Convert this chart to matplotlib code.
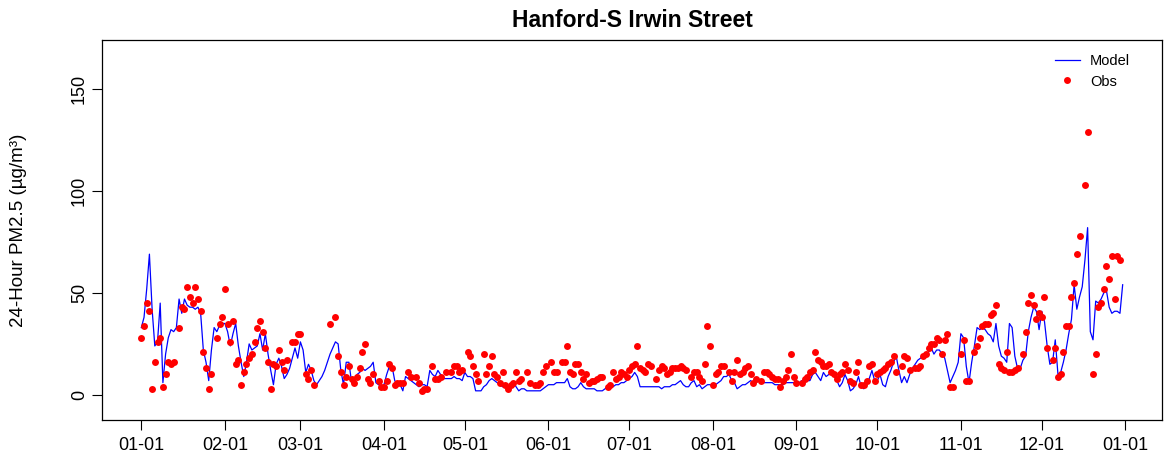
import numpy as np
import matplotlib
matplotlib.use('Agg')
import matplotlib.pyplot as plt

plt.rcParams['font.family'] = ['Liberation Sans', 'DejaVu Sans']

site_name = "Hanford-S Irwin Street"

# daily model PM2.5 (ug/m3), one row per month
model_jan = [33, 38, 52, 69, 42, 24, 26, 45, 6, 20, 28, 32, 31, 33, 47, 40, 47, 44, 43, 43, 42, 43, 40, 22, 16, 7, 22, 33, 31, 34, 35]
model_feb = [35, 31, 24, 30, 35, 24, 16, 9, 16, 25, 22, 23, 24, 30, 22, 30, 20, 12, 5, 15, 18, 14, 8, 10, 13, 18, 23, 18]
model_mar = [26, 22, 11, 15, 12, 7, 5, 7, 9, 12, 16, 20, 23, 26, 25, 12, 5, 16, 16, 6, 6, 10, 11, 13, 12, 13, 14, 16, 6, 5, 4]
model_apr = [5, 10, 14, 14, 7, 5, 5, 2, 9, 8, 7, 6, 5, 4, 5, 5, 4, 12, 10, 9, 12, 10, 8, 8, 8, 8, 9, 8, 8, 7]
model_may = [11, 9, 9, 8, 2, 2, 2, 4, 5, 7, 8, 7, 6, 5, 4, 4, 4, 5, 6, 4, 2, 3, 3, 2, 2, 2, 2, 2, 2, 3, 4]
model_jun = [5, 5, 5, 6, 6, 6, 6, 8, 4, 3, 3, 4, 6, 4, 3, 3, 3, 3, 2, 2, 2, 3, 4, 4, 4, 5, 5, 6, 6, 7]
model_jul = [8, 9, 11, 9, 4, 4, 4, 4, 4, 4, 4, 4, 3, 4, 4, 4, 5, 5, 6, 7, 5, 4, 4, 6, 7, 4, 5, 3, 4, 5, 5]
model_aug = [4, 5, 6, 7, 9, 9, 10, 7, 6, 3, 4, 5, 5, 6, 7, 6, 6, 7, 7, 6, 6, 6, 6, 5, 5, 5, 5, 6, 6, 6, 6]
model_sep = [6, 6, 7, 7, 7, 7, 10, 11, 9, 7, 11, 9, 10, 11, 9, 7, 4, 6, 10, 7, 2, 3, 5, 9, 4, 3, 6, 8, 12, 7]
model_oct = [7, 10, 5, 4, 9, 12, 16, 19, 12, 6, 9, 6, 10, 13, 15, 17, 18, 19, 20, 21, 23, 20, 22, 22, 20, 18, 12, 6, 9, 12, 16]
model_nov = [30, 28, 14, 6, 16, 24, 33, 32, 33, 32, 30, 29, 26, 35, 24, 19, 18, 16, 35, 33, 19, 13, 13, 17, 19, 31, 38, 43, 41, 32]
model_dec = [41, 36, 24, 15, 16, 27, 10, 11, 16, 22, 30, 37, 54, 42, 48, 53, 66, 82, 31, 27, 46, 45, 47, 50, 51, 43, 40, 41, 41, 40, 54]

# daily observed PM2.5, None where no sample
N = None
obs_jan = [28, 34, 45, 41, 3, 16, 26, 28, 4, 10, 16, 15, 16, N, 33, 43, 42, 53, 48, 45, 53, 47, 41, 21, 13, 3, 10, N, 28, 35, 38]
obs_feb = [52, 35, 26, 36, 15, 17, 5, 11, 15, 18, 20, 26, 33, 36, 31, 23, 16, 3, 15, 14, 22, 16, 12, 17, N, 26, 26, 30]
obs_mar = [30, N, 10, 8, 12, 5, N, N, N, N, N, 35, N, 38, 19, 11, 5, 9, 14, 8, 6, 9, 13, 21, 25, 8, 6, 10, N, 7, 4]
obs_apr = [4, 7, 15, 13, 5, 6, 6, 6, N, 11, 9, N, 9, 6, 2, 3, 3, N, 14, 8, 8, 9, N, 11, N, 11, 14, 14, 11, 12]
obs_may = [N, 21, 19, 14, 10, 7, N, 20, 10, 14, 19, 10, 9, 6, 11, 5, 3, 5, 6, 11, 7, 8, N, 11, 6, N, 5, 5, 6, 11, 14]
obs_jun = [N, 16, 11, 11, N, 16, 16, 24, 11, 10, 15, 15, 11, 8, 10, 6, 7, 7, 8, 9, 9, N, 4, 5, 11, 8, 9, 11, 10, 9]
obs_jul = [12, 14, 15, 24, 13, 12, 11, 15, 14, N, 8, 12, 14, 13, 10, 11, 13, 13, 13, 14, 13, 12, N, 9, 11, 11, 9, 7, 15, 34, 24]
obs_aug = [5, 10, 11, 14, 14, N, 11, 7, 11, 17, 10, 11, 13, 14, 10, 6, 8, N, 7, 11, 11, 10, 9, 8, 8, 4, 7, 9, 12, 20, 9]
obs_sep = [6, N, 6, 8, 9, 11, 12, 21, 17, 16, 14, 14, 15, 11, 10, 8, 10, 11, 15, 12, 7, 6, 11, 16, 5, 5, 7, 14, 15, 7]
obs_oct = [10, 11, 12, 13, 15, 16, 19, 11, N, 14, 19, 18, 12, N, 13, 13, 14, 19, 20, 23, 25, 25, 28, 27, 20, 27, 30, 4, 4, N, N]
obs_nov = [20, 27, 7, 7, N, 21, 24, 28, 34, 35, 35, 39, 40, 44, 15, 13, 12, 21, 11, 11, 12, 13, N, 20, 31, 45, 49, 44, 37, 40]
obs_dec = [38, 48, 23, N, 17, 23, 9, 10, 21, 34, 34, 48, 55, 69, 78, N, 103, 129, N, 10, 20, 43, 45, 52, 63, 57, 68, 47, 68, 66, N]

month_labels = ["01-01", "02-01", "03-01", "04-01", "05-01", "06-01",
                "07-01", "08-01", "09-01", "10-01", "11-01", "12-01", "01-01"]
month_lengths = [31, 28, 31, 30, 31, 30, 31, 31, 30, 31, 30, 31]


def main():
    model = np.concatenate([model_jan, model_feb, model_mar, model_apr, model_may, model_jun,
                            model_jul, model_aug, model_sep, model_oct, model_nov, model_dec]).astype(float)
    obs_rows = [obs_jan, obs_feb, obs_mar, obs_apr, obs_may, obs_jun,
                obs_jul, obs_aug, obs_sep, obs_oct, obs_nov, obs_dec]
    obs = np.array([np.nan if v is None else v for row in obs_rows for v in row], dtype=float)
    days = np.arange(len(model))
    month_starts = np.concatenate([[0], np.cumsum(month_lengths)])

    fig = plt.figure(figsize=(11.64, 4.59), dpi=100)
    ax = fig.add_axes([0.0876, 0.085, 0.9107, 0.8279])

    ax.plot(days, model, color='#0000ff', linewidth=0.9, label='Model')
    ax.plot(days, obs, 'o', color='#ff0000', markersize=5, markeredgewidth=0, label='Obs')

    ax.set_xlim(-14.6, 378.6)
    ax.set_ylim(-12.3, 174)
    ax.set_xticks(month_starts)
    ax.set_xticklabels(month_labels)
    ax.set_yticks([0, 50, 100, 150])
    ax.set_yticklabels(['0', '50', '100', '150'], rotation=90, va='center')
    ax.tick_params(direction='out', length=7, width=0.8, labelsize=13, pad=5)
    ax.tick_params(axis='y', pad=3)
    for sp in ax.spines.values():
        sp.set_linewidth(0.9)

    ax.set_ylabel('24-Hour PM2.5 (µg/m³)', fontsize=13.5, labelpad=32)
    ax.set_title(site_name, fontsize=16.5, fontweight='bold', pad=9)

    ax.legend(loc='upper right', frameon=False, fontsize=10.5,
              handlelength=1.7, handletextpad=0.7, labelspacing=0.45,
              borderaxespad=0, borderpad=0,
              bbox_to_anchor=(1130 / 1164, 1 - 54 / 459), bbox_transform=fig.transFigure)

    fig.savefig('out.png', dpi=100)
    plt.close(fig)


if __name__ == "__main__":
    main()
